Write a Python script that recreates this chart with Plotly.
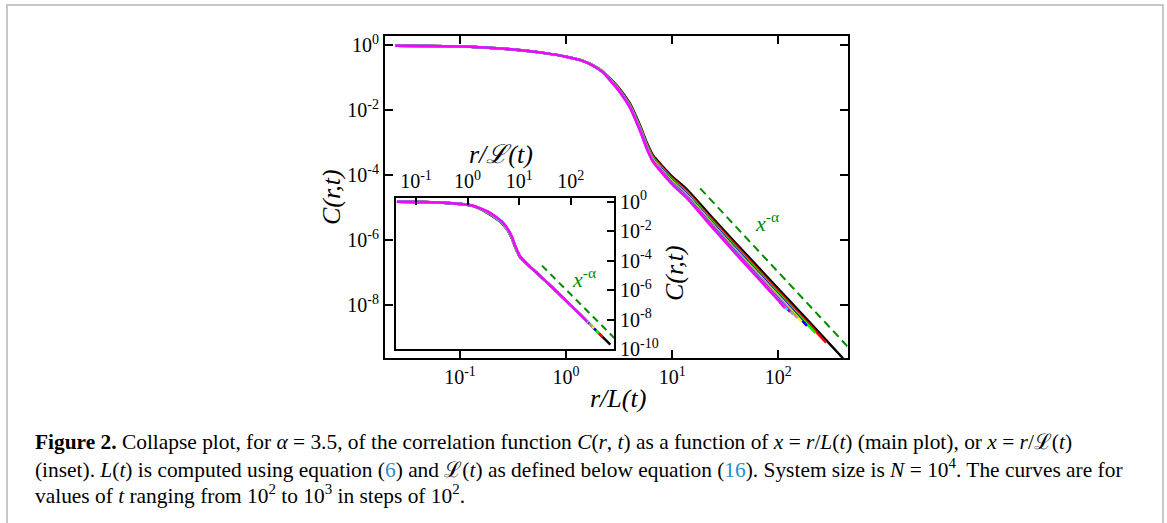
import numpy as np
import plotly.graph_objects as go

W, H = 1167, 523

# ---------------- data (log10 values) ----------------
times = [100, 200, 300, 400, 500, 600, 700, 800, 900, 1000]
colors = ["#000000", "#ff0000", "#00ff00", "#0000ff", "#ffff00",
          "#bc8f8f", "#a0a0a0", "#9400d3", "#00ffff", "#ff00ff"]

# main plot: x = r/L(t)
main_grid_logx = [-1.61, -1.3, -1.0, -0.7, -0.4, -0.2, 0.0, 0.15, 0.25, 0.35, 0.42,
                  0.5, 0.6, 0.7, 0.76, 0.82, 0.9, 1.0, 1.14, 1.36, 1.6, 2.0, 2.3]
main_head_logy = [-0.02, -0.03, -0.05, -0.09, -0.17, -0.25, -0.36, -0.48]
main_logy_t100 = [-0.62, -0.82, -1.05, -1.33, -1.79, -2.50, -3.00, -3.40, -3.70, -4.05, -4.45, -5.25, -6.10, -7.50, -8.55]
main_logy_t200 = [-0.62, -0.83, -1.06, -1.35, -1.82, -2.54, -3.04, -3.44, -3.75, -4.10, -4.51, -5.32, -6.17, -7.58, -8.63]
main_logy_t300 = [-0.62, -0.83, -1.07, -1.37, -1.84, -2.56, -3.07, -3.48, -3.78, -4.14, -4.55, -5.37, -6.23, -7.64, -8.69]
main_logy_t400 = [-0.63, -0.84, -1.08, -1.38, -1.86, -2.59, -3.10, -3.51, -3.81, -4.17, -4.59, -5.41, -6.27, -7.68]
main_logy_t500 = [-0.63, -0.84, -1.09, -1.39, -1.87, -2.60, -3.12, -3.53, -3.84, -4.20, -4.62, -5.44, -6.31, -7.72]
main_logy_t600 = [-0.63, -0.84, -1.09, -1.40, -1.88, -2.62, -3.13, -3.54, -3.86, -4.22, -4.64, -5.46, -6.33, -7.75]
main_logy_t700 = [-0.63, -0.84, -1.09, -1.40, -1.89, -2.63, -3.15, -3.56, -3.87, -4.24, -4.66, -5.49, -6.36, -7.78]
main_logy_t800 = [-0.63, -0.85, -1.10, -1.41, -1.90, -2.64, -3.16, -3.58, -3.89, -4.26, -4.68, -5.51, -6.39, -7.81]
main_logy_t900 = [-0.63, -0.85, -1.10, -1.42, -1.91, -2.66, -3.18, -3.59, -3.91, -4.28, -4.70, -5.54, -6.42, -7.84]
main_logy_t1000 = [-0.63, -0.85, -1.11, -1.42, -1.92, -2.67, -3.19, -3.60, -3.92, -4.29, -4.72, -5.55, -6.43, -7.86]
main_end_logx = [2.61, 2.45, 2.35, 2.27, 2.22, 2.18, 2.14, 2.11, 2.085, 2.063]
main_end_logy = [-9.64, -9.16, -8.87, -8.64, -8.51, -8.40, -8.29, -8.21, -8.15, -8.10]

# inset: x = r/calL(t)
inset_grid_logx = [-1.37, -1.0, -0.72, -0.4, -0.08, 0.1, 0.25, 0.4, 0.5, 0.6, 0.7,
                   0.78, 0.85, 0.93, 1.02, 1.15, 1.41, 1.86, 2.2, 2.5]
inset_head_logy = [0.0, -0.02, -0.04, -0.09, -0.18, -0.28]
inset_mid_t100 = [-0.51, -0.80, -1.02, -1.27, -1.59, -1.97, -2.42, -3.15, -3.78, -4.22]
inset_mid_t200 = [-0.50, -0.78, -1.00, -1.25, -1.57, -1.95, -2.40, -3.13, -3.77, -4.22]
inset_mid_t300 = [-0.50, -0.77, -0.99, -1.24, -1.56, -1.94, -2.39, -3.12, -3.77, -4.22]
inset_mid_t400 = [-0.49, -0.76, -0.98, -1.23, -1.55, -1.93, -2.38, -3.11, -3.76, -4.22]
inset_mid_t500 = [-0.49, -0.75, -0.97, -1.22, -1.54, -1.92, -2.37, -3.11, -3.76, -4.21]
inset_mid_t600 = [-0.48, -0.74, -0.96, -1.21, -1.53, -1.91, -2.36, -3.10, -3.75, -4.21]
inset_mid_t700 = [-0.48, -0.73, -0.95, -1.20, -1.52, -1.90, -2.35, -3.09, -3.75, -4.21]
inset_mid_t800 = [-0.47, -0.71, -0.93, -1.18, -1.50, -1.88, -2.33, -3.07, -3.74, -4.21]
inset_mid_t900 = [-0.46, -0.70, -0.92, -1.17, -1.49, -1.87, -2.32, -3.07, -3.73, -4.20]
inset_mid_t1000 = [-0.45, -0.68, -0.90, -1.15, -1.47, -1.85, -2.30, -3.05, -3.72, -4.20]
inset_tail_logy = [-5.05, -6.55, -7.72, -8.77]
inset_end_logx = [2.77, 2.62, 2.55, 2.49, 2.455, 2.42, 2.39, 2.36, 2.34, 2.32]
inset_end_logy = [-9.71, -9.18, -8.93, -8.73, -8.60, -8.48, -8.38, -8.28, -8.21, -8.14]

# guide lines x^-alpha
main_guide_logx = [1.263, 2.654]
main_guide_logy = [-4.41, -9.28]
inset_guide_logx = [1.443, 2.846]
inset_guide_logy = [-4.34, -9.25]

# tick labels
x_tickvals = [0.1, 1, 10, 100]
x_ticktext = ["10<sup>-1</sup>", "10<sup>0</sup>", "10<sup>1</sup>", "10<sup>2</sup>"]
main_y_tickvals = [1, 1e-2, 1e-4, 1e-6, 1e-8]
main_y_ticktext = ["10<sup>0</sup>", "10<sup>-2</sup>", "10<sup>-4</sup>", "10<sup>-6</sup>", "10<sup>-8</sup>"]
inset_y_tickvals = [1, 1e-2, 1e-4, 1e-6, 1e-8, 1e-10]
inset_y_ticktext = ["10<sup>0</sup>", "10<sup>-2</sup>", "10<sup>-4</sup>", "10<sup>-6</sup>",
                    "10<sup>-8</sup>", "10<sup>-10</sup>"]

main_series = [main_logy_t100, main_logy_t200, main_logy_t300, main_logy_t400, main_logy_t500,
               main_logy_t600, main_logy_t700, main_logy_t800, main_logy_t900, main_logy_t1000]
inset_series = [inset_mid_t100, inset_mid_t200, inset_mid_t300, inset_mid_t400, inset_mid_t500,
                inset_mid_t600, inset_mid_t700, inset_mid_t800, inset_mid_t900, inset_mid_t1000]

SERIF = "Liberation Serif, Times New Roman, DejaVu Serif, serif"
GUIDE = "#008b00"

fig = go.Figure()

# ---------------- main curves ----------------
for k in range(len(times)):
    tail = main_series[k]
    ys = main_head_logy + tail + [main_end_logy[k]]
    xs = main_grid_logx[:len(main_head_logy) + len(tail)] + [main_end_logx[k]]
    fig.add_trace(go.Scatter(
        x=np.power(10.0, xs), y=np.power(10.0, ys), mode="lines",
        line=dict(color=colors[k], width=2.5, shape="spline", smoothing=0.6),
        xaxis="x", yaxis="y", showlegend=False, hoverinfo="skip",
        name=f"t={times[k]}"))

fig.add_trace(go.Scatter(
    x=np.power(10.0, main_guide_logx), y=np.power(10.0, main_guide_logy), mode="lines",
    line=dict(color=GUIDE, width=2, dash="8px,5px"),
    xaxis="x", yaxis="y", showlegend=False, hoverinfo="skip"))

# ---------------- inset curves ----------------
for k in range(len(times)):
    xe = inset_end_logx[k]
    n_mid = len(inset_head_logy) + len(inset_series[k])
    tail_x = [v for v in inset_grid_logx[n_mid:] if v < xe]
    tail_y = inset_tail_logy[:len(tail_x)]
    xs = inset_grid_logx[:n_mid] + tail_x + [xe]
    ys = inset_head_logy + inset_series[k] + tail_y + [inset_end_logy[k]]
    fig.add_trace(go.Scatter(
        x=np.power(10.0, xs), y=np.power(10.0, ys), mode="lines",
        line=dict(color=colors[k], width=2.5, shape="spline", smoothing=0.6),
        xaxis="x2", yaxis="y2", showlegend=False, hoverinfo="skip",
        name=f"t={times[k]}"))

fig.add_trace(go.Scatter(
    x=np.power(10.0, inset_guide_logx), y=np.power(10.0, inset_guide_logy), mode="lines",
    line=dict(color=GUIDE, width=2, dash="7px,5px"),
    xaxis="x2", yaxis="y2", showlegend=False, hoverinfo="skip"))

tickfont = dict(family=SERIF, size=20, color="black")

def px_x(p):
    return p / W

def px_y(p):
    return 1 - p / H

common = dict(type="log", showgrid=False, zeroline=False, showline=True, linecolor="black",
              ticks="inside", ticklen=8, tickwidth=1.5, tickcolor="black", tickfont=tickfont,
              automargin=False)

fig.update_layout(
    template="none",
    width=W, height=H,
    margin=dict(l=0, r=0, t=0, b=0),
    paper_bgcolor="white", plot_bgcolor="white",
    xaxis=dict(**common, domain=[px_x(385), px_x(847.7)], range=[-1.707, 2.654], anchor="y",
               linewidth=2, mirror="ticks", tickvals=x_tickvals, ticktext=x_ticktext),
    yaxis=dict(**common, domain=[px_y(358.3), px_y(35.7)], range=[-9.64, 0.286], anchor="x",
               linewidth=2, mirror="ticks", tickvals=main_y_tickvals, ticktext=main_y_ticktext),
    xaxis2=dict(**common, domain=[px_x(395.7), px_x(614.3)], range=[-1.394, 2.846], anchor="y2",
                side="top", linewidth=1.5, mirror=True, tickvals=x_tickvals, ticktext=x_ticktext),
    yaxis2=dict(**common, domain=[px_y(349), px_y(197.7)], range=[-10.0, 0.27], anchor="x2",
                side="right", linewidth=1.5, mirror=True, tickvals=inset_y_tickvals,
                ticktext=inset_y_ticktext),
)

ann = []
title_font = dict(family=SERIF, size=26, color="black")
ann.append(dict(text="<i>r/L(t)</i>", x=px_x(618), y=px_y(398), font=title_font))
ann.append(dict(text="<i>C(r,t)</i>", x=px_x(331), y=px_y(197), font=title_font, textangle=-90))
ann.append(dict(text="<i>r/ℒ(t)</i>", x=px_x(501), y=px_y(154), font=title_font))
ann.append(dict(text="<i>C(r,t)</i>", x=px_x(674), y=px_y(273), font=title_font, textangle=-90))
guide_font = dict(family=SERIF, size=22, color=GUIDE)
ann.append(dict(text="<i>x</i><sup>-α</sup>", x=px_x(767), y=px_y(222), font=guide_font))
ann.append(dict(text="<i>x</i><sup>-α</sup>", x=px_x(584), y=px_y(278), font=guide_font))

cap_font = dict(family=SERIF, size=21.4, color="black")
BLUE = "#2a8cc8"
cap1 = ("<b>Figure 2.</b> Collapse plot, for <i>α</i> = 3.5, of the correlation function "
        "<i>C</i>(<i>r</i>, <i>t</i>) as a function of <i>x</i> = <i>r</i>/<i>L</i>(<i>t</i>) "
        "(main plot), or <i>x</i> = <i>r</i>/ℒ(<i>t</i>)")
cap2 = ("(inset). <i>L</i>(<i>t</i>) is computed using equation "
        f"(<span style='color:{BLUE}'>6</span>) and ℒ(<i>t</i>) as defined below equation "
        f"(<span style='color:{BLUE}'>16</span>). System size is <i>N</i> = 10<sup>4</sup>. "
        "The curves are for")
cap3 = ("values of <i>t</i> ranging from 10<sup>2</sup> to 10<sup>3</sup> in steps of "
        "10<sup>2</sup>.")
for txt, yy in [(cap1, 442), (cap2, 468), (cap3, 494)]:
    ann.append(dict(text=txt, x=px_x(33), y=px_y(yy), xanchor="left", font=cap_font, align="left"))

for a in ann:
    a.setdefault("xanchor", "center")
    a.setdefault("yanchor", "middle")
    a.update(xref="paper", yref="paper", showarrow=False)
fig.update_layout(annotations=ann)

fig.add_shape(type="rect", xref="paper", yref="paper", x0=px_x(7), x1=px_x(1163),
              y0=-0.3, y1=px_y(5), line=dict(color="#c8c8c8", width=2), layer="below")

fig.write_html("out.html", config={"displayModeBar": False})
